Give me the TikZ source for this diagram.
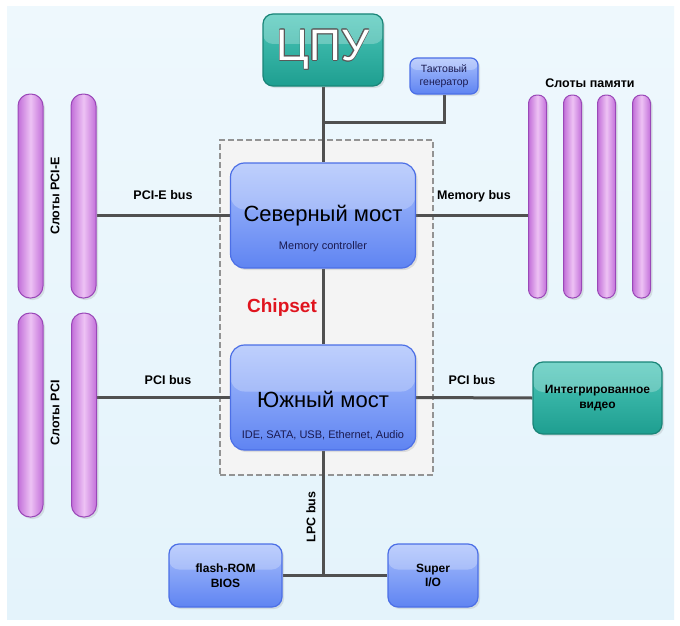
\documentclass[tikz,border=0pt]{standalone}
\usepackage{fontspec}
\setmainfont{Liberation Sans}
\usepackage{contour}
\contourlength{0.8pt}
\usetikzlibrary{shadows,calc}
\definecolor{bgblue}{HTML}{E4F3FB}
\definecolor{bgtop}{HTML}{EEF8FD}
\definecolor{linegray}{HTML}{505050}
\definecolor{bluetop}{HTML}{A9C0FC}
\definecolor{bluebot}{HTML}{5F84F2}
\definecolor{blueedge}{HTML}{4C6FE6}
\definecolor{tealtop}{HTML}{4CC7B9}
\definecolor{tealbot}{HTML}{1E9E90}
\definecolor{tealedge}{HTML}{1A8578}
\definecolor{slotmid}{HTML}{EDC2F4}
\definecolor{slotside}{HTML}{C26FD9}
\definecolor{slotedge}{HTML}{9A48B8}
\definecolor{chipred}{HTML}{E0141E}
\definecolor{navytext}{HTML}{1A1A50}
\pgfdeclarelayer{bg}\pgfsetlayers{bg,main}
\tikzset{
  bus/.style={draw=linegray,line width=3pt},
  glossbox/.style={rectangle, rounded corners=#1, line width=1.2pt,
    drop shadow={opacity=0.2,shadow xshift=2pt,shadow yshift=-2pt},
    path picture={\fill[white,opacity=0.25] (path picture bounding box.north west) rectangle ([yshift=6pt]path picture bounding box.east);}},
  bluebox/.style={glossbox=#1, draw=blueedge, top color=bluetop, bottom color=bluebot},
  tealbox/.style={glossbox=#1, draw=tealedge, top color=tealtop, bottom color=tealbot},
  slotbar/.style={rectangle, rounded corners=#1, draw=slotedge, line width=1pt,
    left color=slotside, right color=slotside, middle color=slotmid,
    drop shadow={opacity=0.2,shadow xshift=2pt,shadow yshift=-2pt}},
  buslabel/.style={font=\fontsize{12.5}{14}\selectfont\bfseries},
  boxlabel/.style={font=\fontsize{12}{14.5}\selectfont\bfseries, align=center},
  chipbox/.style={rectangle, draw=gray!85, dash pattern=on 6pt off 3pt, line width=1.2pt, fill=gray!9}
}
\begin{document}
\begin{tikzpicture}[x=1pt,y=-1pt]
\useasboundingbox (0,0) rectangle (680,626);
\begin{pgfonlayer}{bg}
\fill[white] (0,0) rectangle (680,626);
\shade[top color=bgtop, bottom color=bgblue] (7,7) rectangle (674,619);
\node[chipbox, minimum width=213pt, minimum height=335pt] (chip) at (326.5,307.5) {};
\end{pgfonlayer}

% CPU and clock
\node[tealbox=10pt, minimum width=120pt, minimum height=72pt] (cpu) at (323,50)
  {\fontsize{44}{44}\selectfont\color{white}\contour{black!65}{ЦПУ}};
\node[bluebox=7pt, minimum width=68pt, minimum height=36pt, align=center,
  font=\fontsize{10.5}{12.5}\selectfont, text=navytext] (clk) at (444,76) {Тактовый\\генератор};

% North bridge
\node[bluebox=14pt, minimum width=185pt, minimum height=105pt] (nb) at (323,215.5) {};
\node[font=\fontsize{22}{26}\selectfont] (nbt) at (323,216) {Северный мост};
\node[font=\fontsize{11}{13}\selectfont, text=navytext] (nbs) at (323,247) {Memory controller};

% South bridge
\node[bluebox=14pt, minimum width=185pt, minimum height=105pt] (sb) at (323,397.5) {};
\node[font=\fontsize{22}{26}\selectfont] (sbt) at (323,399) {Южный мост};
\node[font=\fontsize{11}{13}\selectfont, text=navytext] (sbs) at (323,435) {IDE, SATA, USB, Ethernet, Audio};

\node[font=\fontsize{19}{22}\selectfont\bfseries, text=chipred] (chiplbl) at (282,308) {Chipset};

% Integrated video
\node[tealbox=10pt, minimum width=129pt, minimum height=72pt, boxlabel] (video) at (597.5,398)
  {Интегрированное\\видео};

% Bottom boxes
\node[bluebox=10pt, minimum width=113pt, minimum height=63pt, boxlabel] (flash) at (225.5,575.5) {flash-ROM\\BIOS};
\node[bluebox=10pt, minimum width=90pt, minimum height=63pt, boxlabel] (sio) at (433,575.5) {Super\\I/O};

% Slots
\node[slotbar=12pt, minimum width=25pt, minimum height=204pt] (pcie1) at (30.5,196) {};
\node[slotbar=12pt, minimum width=25pt, minimum height=204pt] (pcie2) at (83.5,196) {};
\node[slotbar=12pt, minimum width=25pt, minimum height=204pt] (pci1) at (30.5,415) {};
\node[slotbar=12pt, minimum width=25pt, minimum height=204pt] (pci2) at (84,415) {};
\node[slotbar=8.5pt, minimum width=18pt, minimum height=203pt] (mem1) at (537.5,196.5) {};
\node[slotbar=8.5pt, minimum width=18pt, minimum height=203pt] (mem2) at (572.5,196.5) {};
\node[slotbar=8.5pt, minimum width=18pt, minimum height=203pt] (mem3) at (606.5,196.5) {};
\node[slotbar=8.5pt, minimum width=18pt, minimum height=203pt] (mem4) at (641.5,196.5) {};

% Labels
\node[buslabel, rotate=90] (lpcie) at (55,196) {Слоты PCI-E};
\node[buslabel, rotate=90] (lpci) at (55,413) {Слоты PCI};
\node[buslabel] (lmem) at (590,83) {Слоты памяти};
\node[buslabel] (bpcie) at (163,195) {PCI-E bus};
\node[buslabel] (bmem) at (474,196) {Memory bus};
\node[buslabel] (bpcil) at (168,380) {PCI bus};
\node[buslabel] (bpcir) at (472,380) {PCI bus};
\node[buslabel, rotate=90] (blpc) at (311,517) {LPC bus};

% Connectors
\coordinate (br) at (323,122);
\coordinate (lpc) at (323,575.5);
\begin{pgfonlayer}{bg}
\draw[bus] (cpu.south) -- (cpu.south |- nb.north);
\draw[bus] (br) -| (clk.south);
\draw[bus] (nb.west) -- (nb.west -| pcie2.east);
\draw[bus] (nb.east) -- (nb.east -| mem1.west);
\draw[bus] (nb.south) -- (sb.north);
\draw[bus] (sb.west) -- (sb.west -| pci2.east);
\draw[bus] (sb.east) -- (video.west);
\draw[bus] (sb.south) -- (lpc);
\draw[bus] (flash.east) -- (sio.west);
\end{pgfonlayer}
\end{tikzpicture}
\end{document}
